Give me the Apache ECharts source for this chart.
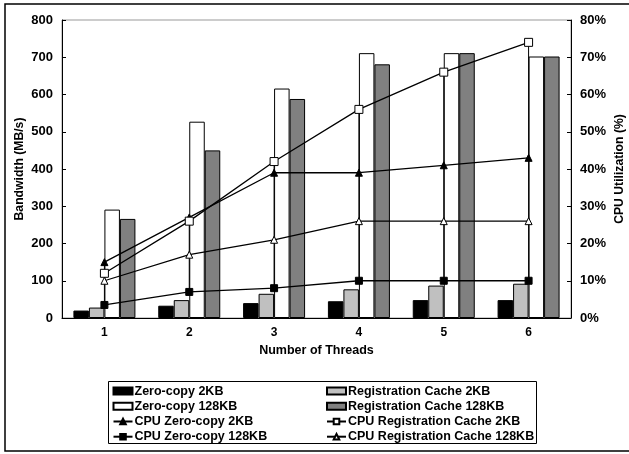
<!DOCTYPE html>
<html>
<head>
<meta charset="utf-8">
<script src="https://cdn.jsdelivr.net/npm/echarts@6/dist/echarts.min.js"></script>
<style>
  html, body { margin: 0; padding: 0; background: #fff; }
  #chart { width: 629px; height: 454px; }
</style>
</head>
<body>
<div id="chart"></div>
<script>
// Thread counts along the x axis
const threads = ['1', '2', '3', '4', '5', '6'];

// Bandwidth (MB/s), left axis
const zeroCopy2K = [20, 33, 40, 45, 48, 48];
const regCache2K = [28, 48, 65, 77, 87, 92];
const zeroCopy128K = [291, 527, 616, 711, 711, 702];
const regCache128K = [266, 450, 588, 681, 711, 702];

// CPU utilization (%), right axis
const cpuZeroCopy2K = [15, 27, 39, 39, 41, 43];
const cpuZeroCopy128K = [3.5, 7, 8, 10, 10, 10];
const cpuRegCache2K = [12, 26, 42, 56, 66, 74];
const cpuRegCache128K = [10, 17, 21, 26, 26, 26];

const FONT = "'Liberation Sans', Arial, sans-serif";
const chart = echarts.init(document.getElementById('chart'), null, { renderer: 'canvas' });

const cpuSets = [cpuZeroCopy2K, cpuZeroCopy128K, cpuRegCache2K, cpuRegCache128K];

function barSeries(name, data, color) {
  return {
    name, type: 'bar', data, yAxisIndex: 0,
    barWidth: 15.5, barGap: '0%',
    itemStyle: { color, borderColor: '#000', borderWidth: 1 },
    emphasis: { disabled: true }, z: 2
  };
}
function lineSeries(name, data, symbol, fill, size) {
  return {
    name, type: 'line', data, yAxisIndex: 1,
    symbol, symbolSize: size, showAllSymbol: true,
    lineStyle: { color: '#000', width: 1.3 },
    itemStyle: { color: fill, borderColor: '#000', borderWidth: 1 },
    emphasis: { disabled: true }, z: 5
  };
}

const legendText = {
  fontFamily: FONT, fontWeight: 'bold', fontSize: 12.5, color: '#000',
  lineHeight: 15.2, padding: [0, 0, 0, -3]
};
const legendBase = {
  orient: 'vertical', top: 383.5, height: 70, itemGap: 0, itemWidth: 19, itemHeight: 7,
  textStyle: legendText, selectedMode: false, padding: 0
};

chart.setOption({
  animation: false,
  grid: {
    left: 62, right: 58, top: 20, bottom: 136,
    outerBoundsMode: 'none',
    show: true, borderColor: '#999', borderWidth: 1
  },
  legend: [
    Object.assign({}, legendBase, {
      left: 112.5,
      data: [
        { name: 'Zero-copy 2KB', icon: 'rect' },
        { name: 'Zero-copy 128KB', icon: 'rect' },
        { name: 'CPU Zero-copy 2KB' },
        { name: 'CPU Zero-copy 128KB' }
      ]
    }),
    Object.assign({}, legendBase, {
      left: 326,
      data: [
        { name: 'Registration Cache 2KB', icon: 'rect' },
        { name: 'Registration Cache 128KB', icon: 'rect' },
        { name: 'CPU Registration Cache 2KB' },
        { name: 'CPU Registration Cache 128KB' }
      ]
    })
  ],
  xAxis: {
    type: 'category', data: threads, boundaryGap: true,
    name: 'Number of Threads', nameLocation: 'middle', nameGap: 26, nameMoveOverlap: false,
    nameTextStyle: { fontFamily: FONT, fontWeight: 'bold', fontSize: 12.5, color: '#000' },
    axisLine: { lineStyle: { color: '#000', width: 1 } },
    axisTick: { inside: true, length: 4, lineStyle: { color: '#000' } },
    axisLabel: { fontFamily: FONT, fontWeight: 'bold', fontSize: 12, color: '#000', margin: 9 },
    splitLine: { show: false }
  },
  yAxis: [
    {
      type: 'value', min: 0, max: 800, interval: 100, position: 'left',
      name: 'Bandwidth (MB/s)', nameLocation: 'middle', nameRotate: 90, nameGap: 36, nameMoveOverlap: false,
      nameTextStyle: { fontFamily: FONT, fontWeight: 'bold', fontSize: 12.2, color: '#000' },
      axisLine: { show: true, lineStyle: { color: '#000', width: 1 } },
      axisTick: { show: true, inside: true, length: 4, lineStyle: { color: '#000' } },
      axisLabel: { fontFamily: FONT, fontWeight: 'bold', fontSize: 13, color: '#000', margin: 9 },
      splitLine: { show: false }
    },
    {
      type: 'value', min: 0, max: 80, interval: 10, position: 'right',
      name: 'CPU Utilization (%)', nameLocation: 'middle', nameRotate: 90, nameGap: 43, nameMoveOverlap: false,
      nameTextStyle: { fontFamily: FONT, fontWeight: 'bold', fontSize: 12.2, color: '#000' },
      axisLine: { show: true, lineStyle: { color: '#000', width: 1 } },
      axisTick: { show: true, inside: true, length: 4, lineStyle: { color: '#000' } },
      axisLabel: { fontFamily: FONT, fontWeight: 'bold', fontSize: 13, color: '#000', margin: 9, formatter: '{value}%' },
      splitLine: { show: false }
    }
  ],
  series: [
    barSeries('Zero-copy 2KB', zeroCopy2K, '#000'),
    barSeries('Registration Cache 2KB', regCache2K, '#c0c0c0'),
    barSeries('Zero-copy 128KB', zeroCopy128K, '#fff'),
    barSeries('Registration Cache 128KB', regCache128K, '#808080'),
    {
      // high-low line joining the CPU values at each thread count
      name: 'hilo', type: 'custom', yAxisIndex: 1, z: 4, silent: true,
      data: threads.map((t, i) => [i, Math.min(...cpuSets.map(s => s[i])), Math.max(...cpuSets.map(s => s[i]))]),
      renderItem(params, api) {
        const a = api.coord([api.value(0), api.value(1)]);
        const b = api.coord([api.value(0), api.value(2)]);
        return {
          type: 'line',
          shape: { x1: a[0], y1: a[1], x2: b[0], y2: b[1] },
          style: { stroke: '#000', lineWidth: 1 }
        };
      }
    },
    lineSeries('CPU Zero-copy 2KB', cpuZeroCopy2K, 'triangle', '#000', 7),
    lineSeries('CPU Zero-copy 128KB', cpuZeroCopy128K, 'rect', '#000', 7),
    lineSeries('CPU Registration Cache 2KB', cpuRegCache2K, 'rect', '#fff', 8),
    lineSeries('CPU Registration Cache 128KB', cpuRegCache128K, 'triangle', '#fff', 7)
  ],
  graphic: [
    {
      type: 'rect', silent: true, z: -1,
      shape: { x: 5, y: 4, width: 640, height: 447 },
      style: { fill: 'none', stroke: '#000', lineWidth: 1.5 }
    },
    {
      type: 'rect', silent: true,
      shape: { x: 108.5, y: 381.5, width: 428, height: 62 },
      style: { fill: 'none', stroke: '#000', lineWidth: 1 }
    }
  ]
});
</script>
</body>
</html>
